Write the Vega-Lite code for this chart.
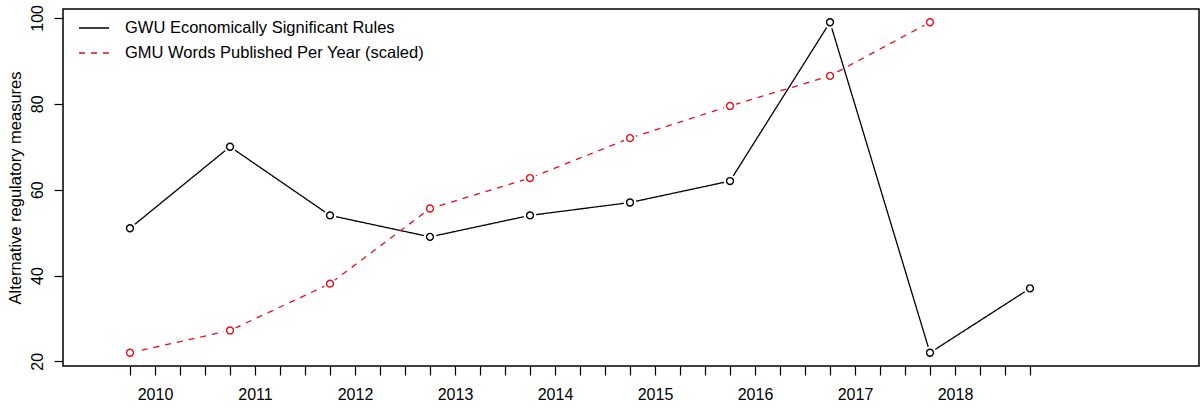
{
  "$schema": "https://vega.github.io/schema/vega-lite/v6.json",
  "width": 1136,
  "height": 357,
  "autosize": {"type": "none"},
  "padding": {"left": 63, "top": 9, "right": 4, "bottom": 42},
  "background": "white",
  "config": {
    "font": "Liberation Sans",
    "view": {"stroke": "black", "strokeWidth": 1.5},
    "axis": {
      "grid": false,
      "domain": false,
      "tickColor": "black",
      "tickWidth": 1.2,
      "tickSize": 9,
      "labelColor": "black",
      "labelFontSize": 16,
      "labelFont": "Liberation Sans",
      "titleFont": "Liberation Sans",
      "titleFontSize": 16.5,
      "titleFontWeight": "normal",
      "titleColor": "black"
    }
  },
  "data": {
    "values": [
      {"year": 2009.75, "value": 51, "series": "GWU Economically Significant Rules"},
      {"year": 2010.75, "value": 70, "series": "GWU Economically Significant Rules"},
      {"year": 2011.75, "value": 54, "series": "GWU Economically Significant Rules"},
      {"year": 2012.75, "value": 49, "series": "GWU Economically Significant Rules"},
      {"year": 2013.75, "value": 54, "series": "GWU Economically Significant Rules"},
      {"year": 2014.75, "value": 57, "series": "GWU Economically Significant Rules"},
      {"year": 2015.75, "value": 62, "series": "GWU Economically Significant Rules"},
      {"year": 2016.75, "value": 99, "series": "GWU Economically Significant Rules"},
      {"year": 2017.75, "value": 22, "series": "GWU Economically Significant Rules"},
      {"year": 2018.75, "value": 37, "series": "GWU Economically Significant Rules"},
      {"year": 2009.75, "value": 22, "series": "GMU Words Published Per Year (scaled)"},
      {"year": 2010.75, "value": 27.2, "series": "GMU Words Published Per Year (scaled)"},
      {"year": 2011.75, "value": 38.1, "series": "GMU Words Published Per Year (scaled)"},
      {"year": 2012.75, "value": 55.6, "series": "GMU Words Published Per Year (scaled)"},
      {"year": 2013.75, "value": 62.7, "series": "GMU Words Published Per Year (scaled)"},
      {"year": 2014.75, "value": 72, "series": "GMU Words Published Per Year (scaled)"},
      {"year": 2015.75, "value": 79.5, "series": "GMU Words Published Per Year (scaled)"},
      {"year": 2016.75, "value": 86.5, "series": "GMU Words Published Per Year (scaled)"},
      {"year": 2017.75, "value": 99, "series": "GMU Words Published Per Year (scaled)"}
    ]
  },
  "encoding": {
    "x": {
      "field": "year",
      "type": "quantitative",
      "scale": {"domain": [2009.08, 2020.44], "nice": false, "zero": false},
      "axis": {
        "title": null,
        "values": [2009.75, 2010, 2010.25, 2010.5, 2010.75, 2011, 2011.25, 2011.5, 2011.75, 2012, 2012.25, 2012.5, 2012.75, 2013, 2013.25, 2013.5, 2013.75, 2014, 2014.25, 2014.5, 2014.75, 2015, 2015.25, 2015.5, 2015.75, 2016, 2016.25, 2016.5, 2016.75, 2017, 2017.25, 2017.5, 2017.75, 2018, 2018.25, 2018.5, 2018.75],
        "labelExpr": "datum.value % 1 === 0 ? format(datum.value, 'd') : ''",
        "labelOverlap": false,
        "labelFlush": false,
        "labelPadding": 11,
        "labelBaseline": "top"
      }
    },
    "y": {
      "field": "value",
      "type": "quantitative",
      "scale": {"domain": [18.92, 102.08], "nice": false, "zero": false},
      "axis": {
        "title": "Alternative regulatory measures",
        "values": [20, 40, 60, 80, 100],
        "labelAngle": -90,
        "labelAlign": "center",
        "labelBaseline": "alphabetic",
        "labelPadding": 12,
        "titlePadding": 6
      }
    }
  },
  "layer": [
    {
      "mark": {"type": "line", "strokeWidth": 1.3},
      "encoding": {
        "color": {
          "field": "series",
          "type": "nominal",
          "scale": {
            "domain": ["GWU Economically Significant Rules", "GMU Words Published Per Year (scaled)"],
            "range": ["black", "#E2101A"]
          },
          "legend": {
            "title": null,
            "orient": "none",
            "legendX": 15,
            "legendY": 3,
            "padding": 0,
            "symbolType": "stroke",
            "symbolSize": 900,
            "symbolStrokeWidth": 1.3,
            "labelFontSize": 16.5,
            "labelFont": "Liberation Sans",
            "labelColor": "black",
            "labelOffset": 15,
            "labelLimit": 500,
            "rowPadding": -10
          }
        },
        "strokeDash": {
          "field": "series",
          "type": "nominal",
          "scale": {
            "domain": ["GWU Economically Significant Rules", "GMU Words Published Per Year (scaled)"],
            "range": [[1, 0], [6, 6]]
          },
          "legend": {
            "title": null,
            "orient": "none",
            "legendX": 15,
            "legendY": 3,
            "padding": 0,
            "symbolType": "stroke",
            "symbolSize": 900,
            "symbolStrokeWidth": 1.3,
            "labelFontSize": 16.5,
            "labelFont": "Liberation Sans",
            "labelColor": "black",
            "labelOffset": 15,
            "labelLimit": 500,
            "rowPadding": -10
          }
        }
      }
    },
    {
      "mark": {"type": "point", "shape": "circle", "filled": true, "fill": "white", "strokeWidth": 0, "size": 160, "opacity": 1}
    },
    {
      "mark": {"type": "point", "shape": "circle", "filled": false, "strokeWidth": 1.4, "size": 48, "opacity": 1},
      "encoding": {
        "stroke": {
          "field": "series",
          "type": "nominal",
          "scale": {
            "domain": ["GWU Economically Significant Rules", "GMU Words Published Per Year (scaled)"],
            "range": ["black", "#E2101A"]
          },
          "legend": null
        }
      }
    }
  ]
}
